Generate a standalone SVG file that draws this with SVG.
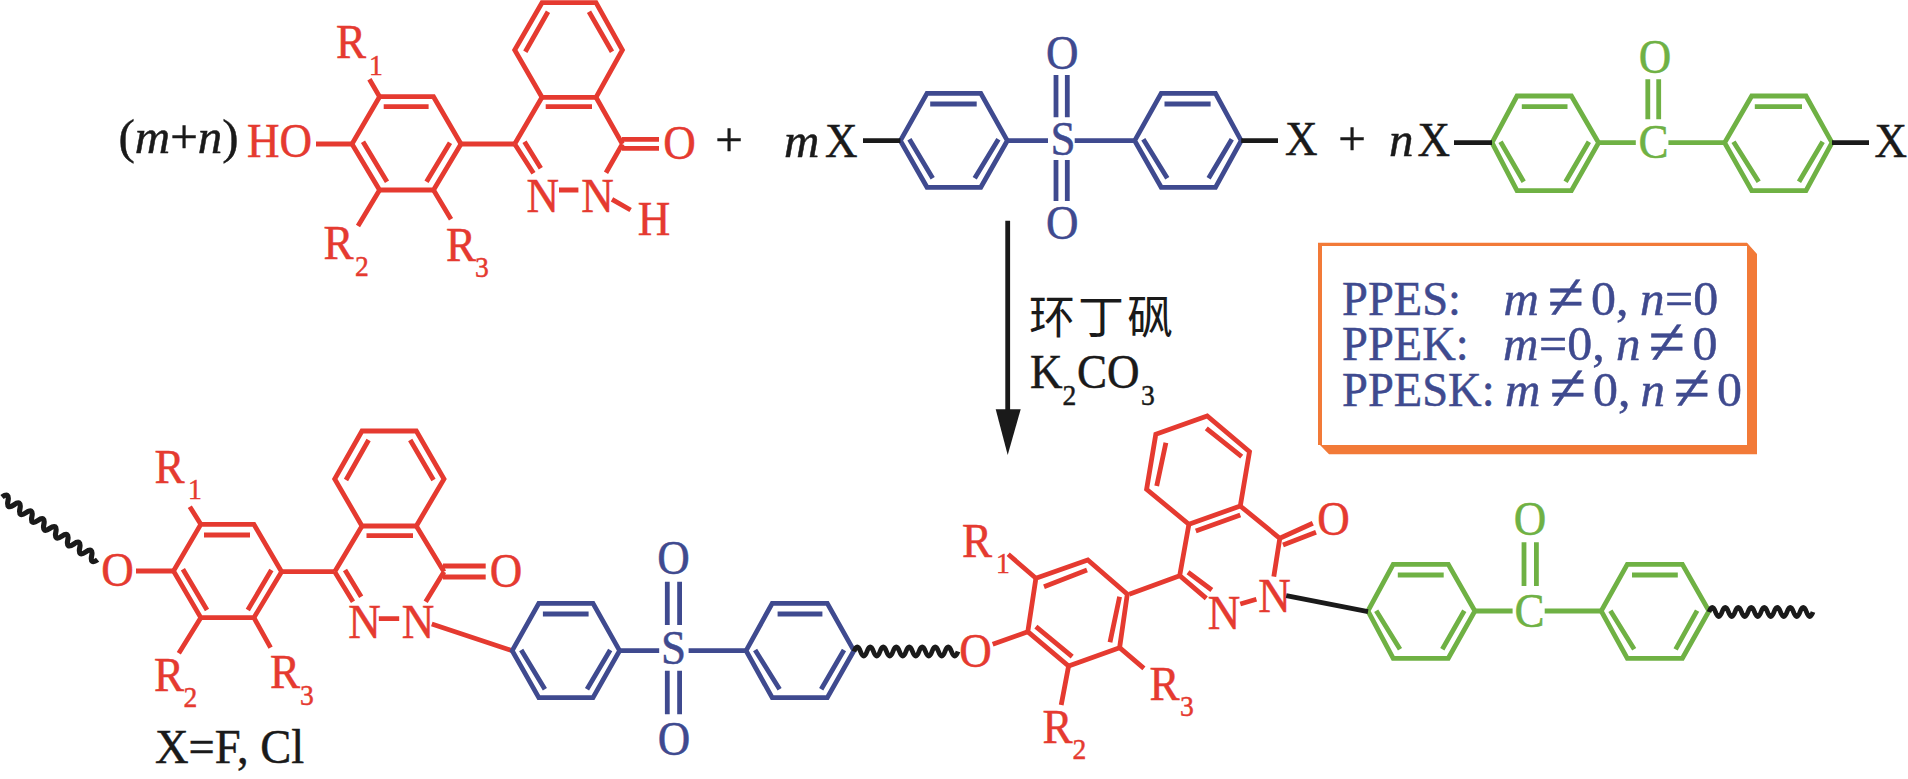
<svg xmlns="http://www.w3.org/2000/svg" width="1908" height="779" viewBox="0 0 1908 779">
<style>
text{font-family:"Liberation Serif","Noto Sans CJK SC",serif;font-size:49px;stroke-width:.5}
.m{text-anchor:middle}
.s{font-size:30px}
.i{font-style:italic}
.ne{font-size:66px}
.cjk{font-family:"Noto Sans CJK SC","Liberation Serif",serif;font-size:46px;letter-spacing:3px;stroke-width:0}
path,polygon.ring{fill:none;stroke-width:4.8;stroke-linejoin:miter}
.R path,.R polygon.ring{stroke:#e53a30}.R text{fill:#e53a30;stroke:#e53a30}
.B path,.B polygon.ring{stroke:#3f4a8f}.B text{fill:#3f4a8f;stroke:#3f4a8f}
.G path,.G polygon.ring{stroke:#6fb144}.G text{fill:#6fb144;stroke:#6fb144}
.K path{stroke:#1a1a1a}.K text{fill:#1a1a1a;stroke:#1a1a1a}
</style>
<defs>
<path id="wave" d="M0 0q3.25 -9 6.5 0t6.5 0t6.5 0t6.5 0t6.5 0t6.5 0t6.5 0t6.5 0t6.5 0t6.5 0t6.5 0t6.5 0t6.5 0t6.5 0t6.5 0t6.5 0" stroke="#1a1a1a" fill="none" stroke-width="5"/>
</defs>

<g id="reactant-phthalazinone" class="R">
<polygon class="ring" points="542,2.7 596,2.7 622.4,50 596,97.3 542,97.3 514.7,50"/>
<path d="M525.3 51.7L548 11.7M612 51.7L589 11.7M545.7 106.7H592"/>
<path d="M514.7 144L542 97.3M596 97.3L622.4 144M514.7 144L533.5 173.3M524.5 141.7L540.8 168.3M606 172.7L622.4 144M622 139.3H659M622 148.3H659M559 190H578.4M612 199.3L630.6 210"/>
<polygon class="ring" points="379.6,96.7 433.5,96.7 461,144 433.5,190 379.6,190 352,144"/>
<path d="M383.7 106.7H428.6M363 141.7L387 181.7M450 142.7L426.5 181.7M316 144H352M369.4 79.3L379.6 96.7M379.6 190L358 226M433.5 190L451 219.3M461 144H514.7"/>
<text transform="matrix(.92 0 0 1 247 157.3)">HO</text>
<text transform="matrix(.92 0 0 1 336 58.3)">R</text><text class="s" transform="matrix(.92 0 0 1 369 75)">1</text>
<text transform="matrix(.92 0 0 1 323.5 259.3)">R</text><text class="s" transform="matrix(.92 0 0 1 355 276)">2</text>
<text transform="matrix(.92 0 0 1 446 260.7)">R</text><text class="s" transform="matrix(.92 0 0 1 475 276.7)">3</text>
<text class="m" transform="matrix(.92 0 0 1 542.7 211.7)">N</text>
<text class="m" transform="matrix(.92 0 0 1 597.5 211.7)">N</text>
<text class="m" transform="matrix(.92 0 0 1 654 235)">H</text>
<text class="m" transform="matrix(.92 0 0 1 679.5 158.5)">O</text>
</g>

<g id="prefix-mn" class="K">
<text transform="matrix(1 0 0 1 118.5 153.3)">(<tspan class="i">m</tspan>+<tspan class="i">n</tspan>)</text>
</g>
<g id="plus-1" class="K"><text class="m" transform="translate(729 155.5)">+</text></g>

<g id="reactant-sulfone-monomer">
<g class="B">
<polygon class="ring" points="927,93.3 980.8,93.3 1007.3,140.7 980.8,187.3 927,187.3 900.4,140.7"/>
<polygon class="ring" points="1161.2,93.3 1215.5,93.3 1241.2,140.7 1215.5,187.3 1161.2,187.3 1134.7,140.7"/>
<path d="M930.2 104H976.7M909.4 139.3L932.7 178.3M998.4 139.3L974.7 178.3M1164.5 104H1210.6M1143.3 139.3L1167.3 178.3M1231.8 139.3L1208.6 178.3M1007.3 140.7H1048M1074.7 140.7H1134.7M1056 75V117.3M1067.3 75V117.3M1056 160V201M1067.3 160V201"/>
<text class="m" transform="matrix(.92 0 0 1 1063 155)">S</text>
<text class="m" transform="matrix(.92 0 0 1 1062.4 69.3)">O</text>
<text class="m" transform="matrix(.92 0 0 1 1062.4 238.7)">O</text>
</g>
<g class="K">
<path d="M863 140.7H900.4M1241.2 140.7H1278"/>
<text class="i" transform="translate(784 156.7)">m</text>
<text transform="matrix(.92 0 0 1 825 156.7)">X</text>
<text transform="matrix(.92 0 0 1 1285 155.3)">X</text>
</g>
</g>
<g id="plus-2" class="K"><text class="m" transform="translate(1352 155.3)">+</text></g>

<g id="reactant-ketone-monomer">
<g class="G">
<polygon class="ring" points="1517,96 1571.4,96 1598.6,142.7 1571.4,190.7 1517,190.7 1492,142.7"/>
<polygon class="ring" points="1751.7,96 1806,96 1832,142.7 1806,190.7 1751.7,190.7 1724.6,142.7"/>
<path d="M1521.8 106.7H1567.5M1500.5 141.7L1523.7 181.7M1588.9 141.7L1565.6 181.7M1754.8 106.7H1802M1733.5 141.7L1758.7 181.7M1822.7 141.7L1799 181.7M1598.6 142.7H1635.8M1668.4 142.7H1724.6M1647.8 79.3V119.3M1658.7 79.3V119.3"/>
<text class="m" transform="matrix(.92 0 0 1 1653.5 158.3)">C</text>
<text class="m" transform="matrix(.92 0 0 1 1655 73.3)">O</text>
</g>
<g class="K">
<path d="M1454 142.7H1492M1832 142.7H1869"/>
<text class="i" transform="translate(1389 156)">n</text>
<text transform="matrix(.92 0 0 1 1417.5 156)">X</text>
<text transform="matrix(.92 0 0 1 1874.5 157.3)">X</text>
</g>
</g>

<g id="reaction-arrow" class="K">
<path d="M1007.7 220.7V412"/>
<polygon points="995.7,409.3 1020.7,409.3 1007.7,455" fill="#1a1a1a"/>
</g>
<g id="reaction-conditions" class="K">
<text class="cjk" x="1029" y="333">环丁砜</text>
<text transform="matrix(.92 0 0 1 1030 388.3)">K</text>
<text class="s" transform="matrix(.92 0 0 1 1062.5 405)">2</text>
<text transform="matrix(.92 0 0 1 1077 388.3)">CO</text>
<text class="s" transform="matrix(.92 0 0 1 1141 405)">3</text>
</g>

<g id="legend" class="B">
<polygon points="1318,242.7 1747,242.7 1757,254 1757,454.3 1329,454.3 1320,445 1318,445" fill="#f27a38"/>
<rect x="1322" y="246" width="425" height="199" fill="#fff"/>
<text transform="matrix(.95 0 0 1 1342 315)">PPES:</text>
<text class="i" transform="translate(1503.5 315)">m</text>
<text class="ne m" transform="translate(1565.5 319)">≠</text>
<text transform="matrix(1.02 0 0 1 1591 315)">0,</text>
<text class="i" transform="translate(1640 315)">n</text>
<text transform="matrix(1.02 0 0 1 1665 315)">=0</text>

<text transform="matrix(.95 0 0 1 1342 360)">PPEK:</text>
<text class="i" transform="translate(1503 360)">m</text>
<text transform="matrix(1.02 0 0 1 1539 360)">=0,</text>
<text class="i" transform="translate(1616 360)">n</text>
<text class="ne m" transform="translate(1666.5 364)">≠</text>
<text transform="matrix(1.02 0 0 1 1692.5 360)">0</text>

<text transform="matrix(.95 0 0 1 1342 406)">PPESK:</text>
<text class="i" transform="translate(1505 406)">m</text>
<text class="ne m" transform="translate(1567.5 410)">≠</text>
<text transform="matrix(1.02 0 0 1 1593 406)">0,</text>
<text class="i" transform="translate(1640.5 406)">n</text>
<text class="ne m" transform="translate(1691.5 410)">≠</text>
<text transform="matrix(1.02 0 0 1 1717 406)">0</text>
</g>

<g id="product-unit-1" class="R">
<polygon class="ring" points="362,431 416.3,431 444,479 416.3,526 362,526 334.7,479"/>
<path d="M346 480L368.6 440M433.5 480L410.2 440M366.5 535.7H413"/>
<path d="M334.7 571.7L362 526M416.3 526L444 571.7M334.7 571.7L353 601.7M345 570L361.2 596.7M425.7 601.7L444 571.7M443 566H485.7M443 577H485.7M378.8 618.7H399.2M431.8 624L512.2 650.7"/>
<polygon class="ring" points="200.8,524.3 253.9,524.3 281.6,571.7 253.9,617.7 200.8,617.7 173.5,571"/>
<path d="M204 535H250M182.9 569.3L207 610M271.4 570L247.8 610M136 571H173.5M189.8 506.7L200.8 524.3M200.8 617.7L178.8 653.3M253.9 617.7L270.6 647.7M281.6 571.7H334.7"/>
<text class="m" transform="matrix(.92 0 0 1 117.5 585.7)">O</text>
<text transform="matrix(.92 0 0 1 154.5 482.7)">R</text><text class="s" transform="matrix(.92 0 0 1 188 499.3)">1</text>
<text transform="matrix(.92 0 0 1 154 690.7)">R</text><text class="s" transform="matrix(.92 0 0 1 183.5 706.7)">2</text>
<text transform="matrix(.92 0 0 1 270 688.3)">R</text><text class="s" transform="matrix(.92 0 0 1 300 705)">3</text>
<text class="m" transform="matrix(.92 0 0 1 364.5 638.3)">N</text>
<text class="m" transform="matrix(.92 0 0 1 418 638.3)">N</text>
<text class="m" transform="matrix(.92 0 0 1 506 586.7)">O</text>
</g>

<g id="product-sulfone" class="B">
<polygon class="ring" points="538.8,603.3 593,603.3 619.6,650.7 593,697.7 538.8,697.7 512.2,650.7"/>
<polygon class="ring" points="772.2,603.3 827.3,603.3 853.9,650.7 827.3,697.7 772.2,697.7 746.1,650.7"/>
<path d="M542.9 614H588.6M521.2 650L544.9 689.3M610.2 650L587 689.3M777.6 614H822.4M755.1 650L779.6 689.3M844 650L821.2 689.3M619.6 650.7H659.2M688.6 650.7H746.1M667.3 581.7V625M679.6 581.7V625M667.3 670.7V714.3M679.6 670.7V714.3"/>
<text class="m" transform="matrix(.92 0 0 1 673.5 664)">S</text>
<text class="m" transform="matrix(.92 0 0 1 673.5 574.3)">O</text>
<text class="m" transform="matrix(.92 0 0 1 674 755)">O</text>
</g>

<g id="product-unit-2" class="R">
<polygon class="ring" points="1035.9,578.3 1087.8,560 1127.3,594.3 1119.6,647.7 1068.6,666 1027.8,631.7"/>
<path d="M1044 586.7L1087 570M1119.6 596.7L1110 642.3M1035.9 626.7L1072.2 656.7M992.7 644.3L1027.8 631.7M1008.2 554.3L1035.9 578.3M1068.6 666L1061.2 705M1119.6 647.7L1143.9 668.3"/>
<polygon class="ring" points="1155.8,434.3 1207.2,416 1249.5,451.7 1240.3,506 1188.9,524.3 1146.6,489.3"/>
<path d="M1165.9 442.7L1156.7 486M1206.3 428.3L1241.7 456.7M1195.8 531L1240.3 515M1188.9 524.3L1179.7 575.7M1240.3 506L1279.8 538.3M1279.8 538.3L1273.8 576.7M1179.7 575.7L1206.3 598.3M1188 572.3L1211.8 590M1129.2 594.3L1179.7 575.7M1240.3 604L1256.4 599.3M1279.8 538.3L1312.8 523.3M1283 545L1316 532.3"/>
<text class="m" transform="matrix(.92 0 0 1 975.5 666.7)">O</text>
<text transform="matrix(.92 0 0 1 962 557.3)">R</text><text class="s" transform="matrix(.92 0 0 1 996 573.3)">1</text>
<text transform="matrix(.92 0 0 1 1042.5 742.7)">R</text><text class="s" transform="matrix(.92 0 0 1 1072.5 759.3)">2</text>
<text transform="matrix(.92 0 0 1 1149.5 700)">R</text><text class="s" transform="matrix(.92 0 0 1 1180 716)">3</text>
<text class="m" transform="matrix(.92 0 0 1 1224 629.3)">N</text>
<text class="m" transform="matrix(.92 0 0 1 1274.5 611.7)">N</text>
<text class="m" transform="matrix(.92 0 0 1 1333.5 535)">O</text>
</g>

<g id="product-ketone" class="G">
<polygon class="ring" points="1393.2,564.3 1448.3,564.3 1474.9,611 1448.3,658.3 1393.2,658.3 1367.9,611"/>
<polygon class="ring" points="1627.3,564.3 1682.4,564.3 1709,611 1682.4,658.3 1627.3,658.3 1601.2,611"/>
<path d="M1397.8 575H1443.7M1376.2 610.7L1400 649.3M1464.3 610.7L1442.3 649.3M1632 575H1677.8M1610.4 610.7L1634.2 649.3M1697.1 610.7L1675.6 649.3M1474.9 611H1512.6M1544.7 611H1601.2M1524 542.3V586M1536.4 542.3V586"/>
<text class="m" transform="matrix(.92 0 0 1 1529.5 626.7)">C</text>
<text class="m" transform="matrix(.92 0 0 1 1530 535)">O</text>
</g>

<g id="connectors" class="K">
<path d="M1286.2 595.7L1368 611.7"/>
<use href="#wave" transform="translate(2 497) rotate(33.3) scale(1.1 1)"/>
<use href="#wave" transform="translate(854 651.5)"/>
<use href="#wave" transform="translate(1709 612)"/>
</g>

<g id="note" class="K">
<text transform="matrix(.95 0 0 1 155 763.3)">X=F, Cl</text>
</g>
</svg>
